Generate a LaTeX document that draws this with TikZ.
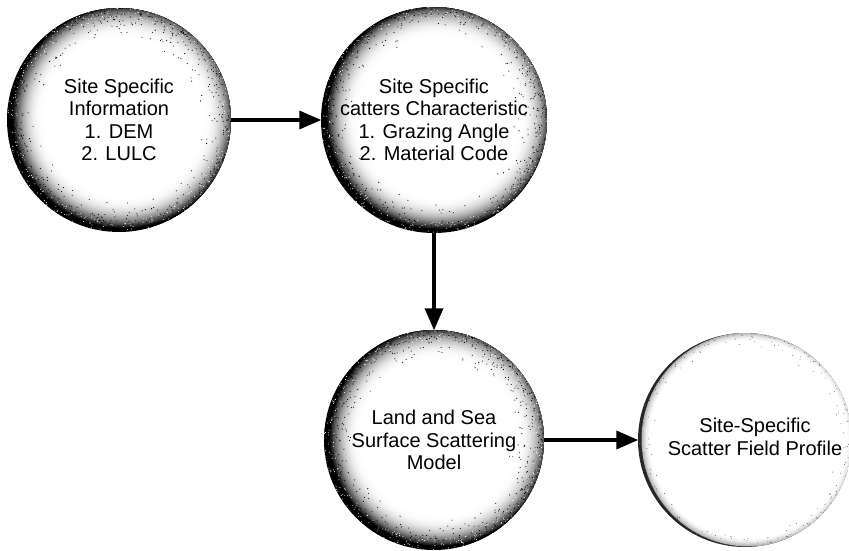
\documentclass[tikz,border=0pt]{standalone}
\usepackage{fontspec}
\setmainfont{Liberation Sans}
\usetikzlibrary{arrows.meta}
\newcommand{\bodyfont}{\fontsize{20}{22.5}\selectfont}
\tikzset{
  blob/.style={circle, inner sep=0pt, minimum size=#1, align=center, font=\bodyfont,
    path picture={
      \fill[black] (path picture bounding box.center) circle (#1/2);
      \foreach \k in {0,...,24} {
        \pgfmathsetmacro\spkF{1-0.3*\k/24}
        \pgfmathsetmacro\spkD{max(0,min(100,100*(max(\spkF-0.7,0.001)/0.3)^2.8))}
        \fill[black!\spkD] ([xshift=5pt,yshift=3pt]path picture bounding box.center) circle ({#1/2*\spkF});
      }
      \foreach \k in {1,...,650} {
        \pgfmathsetmacro\spkA{360*rnd}
        \pgfmathsetmacro\spkR{(#1/2)*(1-0.3*rnd*rnd)}
        \fill[black] ([shift={(\spkA:\spkR pt)}]path picture bounding box.center) circle (0.55pt);
      }
      \foreach \k in {1,...,350} {
        \pgfmathsetmacro\spkA{360*rnd}
        \pgfmathsetmacro\spkR{(#1/2)*(1-0.1*rnd)}
        \fill[white] ([shift={(\spkA:\spkR pt)}]path picture bounding box.center) circle (0.5pt);
      }
    }},
  faint/.style={circle, inner sep=0pt, minimum size=#1,
    path picture={
      \fill[black!85] (path picture bounding box.center) circle (#1/2);
      \foreach \k in {0,...,8} {
        \pgfmathsetmacro\spkF{1-0.08*\k/8}
        \pgfmathsetmacro\spkD{max(0,min(100,30*(max(\spkF-0.92,0.0001)/0.08)^2))}
        \fill[black!\spkD] ([xshift=3.5pt,yshift=0.5pt]path picture bounding box.center) circle ({#1/2*\spkF});
      }
      \foreach \k in {1,...,220} {
        \pgfmathsetmacro\spkA{360*rnd}
        \pgfmathsetmacro\spkR{(#1/2)*(1-0.15*rnd*rnd)}
        \fill[black!70] ([shift={(\spkA:\spkR pt)}]path picture bounding box.center) circle (0.45pt);
      }
    }},
  label text/.style={align=center, font=\bodyfont, inner sep=0pt},
  flow/.style={line width=3.5pt, -{Triangle[length=22pt,width=18pt]}, shorten >=-0.5pt}
}
\begin{document}
\begin{tikzpicture}[x=1pt,y=1pt]
\pgfmathsetseed{7}
\useasboundingbox (0,0) rectangle (849,550);
\node[blob=224pt] (c1) at (119,430) {Site Specific\\Information\\1. DEM\\2. LULC};
\node[blob=226pt] (c2) at (434,430) {Site Specific\\catters Characteristic\\1. Grazing Angle\\2. Material Code};
\node[blob=220pt] (c3) at (434,110) {Land and Sea\\Surface Scattering\\Model};
\node[faint=214pt] (c4) at (745,110) {};
\node[label text] (t4) at (755,113) {Site-Specific\\Scatter Field Profile};
\draw[flow] (c1) -- (c2);
\draw[flow] (c2) -- (c3);
\draw[flow] (c3) -- (c4);
\end{tikzpicture}
\end{document}
